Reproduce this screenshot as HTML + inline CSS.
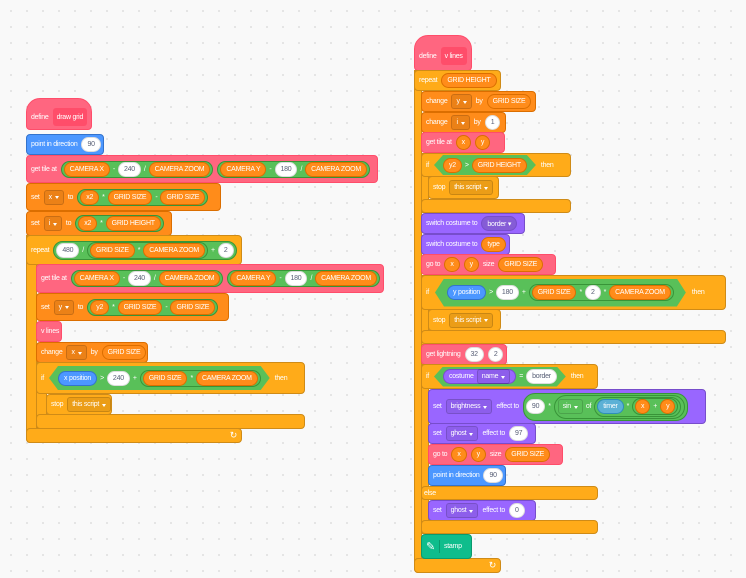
<!DOCTYPE html>
<html><head><meta charset="utf-8"><style>
body{margin:0;width:746px;height:578px;overflow:hidden;background-color:#F9F9F9;background-image:radial-gradient(#dedede 0.8px,transparent 1px);background-size:16px 16px;background-position:3px 3px;position:relative;font-family:"Liberation Sans",sans-serif}
.b{position:absolute;display:flex;align-items:center;gap:4px;padding:0 4px;box-sizing:border-box;border-radius:4px;color:#fff;font-size:7px;white-space:nowrap;letter-spacing:-0.25px}
.pk{background:#FF6680;border:1px solid #FF4D6A}
.bl{background:#4C97FF;border:1px solid #3373CC}
.vo{background:#FF8C1A;border:1px solid #DB6E00}
.ct{background:#FFAB19;border:1px solid #CF8B17}
.pu{background:#9966FF;border:1px solid #774DCB}
.te{background:#0FBD8C;border:1px solid #0B9A6D}
.r{display:flex;align-items:center;gap:3px;border-radius:10px;padding:0 5px;height:15px;box-sizing:border-box;color:#fff}
.o{background:#FF8C1A;border:1px solid #DB6E00}
.n{background:#fff;color:#575E75;border:1px solid #ddd;padding:0 5px}
.g{background:#59C059;border:1px solid #389438;padding:0 2px;height:auto;min-height:17px;border-radius:12px}
.sb{background:#5CB1D6;border:1px solid #2E8EB8}
.bp{background:#4C97FF;border:1px solid #3373CC}
.pp{background:#9966FF;border:1px solid #774DCB}
.hex{display:flex;align-items:center;gap:3px;background:#59C059;height:20px;padding:0 9px;clip-path:polygon(9px 0,calc(100% - 9px) 0,100% 50%,calc(100% - 9px) 100%,9px 100%,0 50%)}
.dd{display:flex;align-items:center;gap:3px;padding:0 4px;height:13px;border-radius:3px;border:1px solid rgba(0,0,0,.15);background:rgba(0,0,0,.08)}
.dd:after{content:"";border:2.5px solid transparent;border-top:3px solid #fff;margin-top:3px}
.c{position:absolute;box-sizing:border-box}
</style></head><body>

<!-- LEFT SCRIPT -->
<div class="b pk" style="left:26px;top:98px;width:66px;height:32px;border-radius:14px 14px 4px 4px;padding-top:6px">define <span class="r" style="background:#FF4D6A;border-radius:3px;height:18px;padding:0 4px">draw grid</span></div>
<div class="b bl" style="left:26px;top:134px;width:78px;height:21px">point in direction <span class="r n">90</span></div>
<div class="b pk" style="left:26px;top:155px;width:352px;height:28px">get tile at
 <span class="r g"><span class="r o">CAMERA X</span>-<span class="r n">240</span>/<span class="r o">CAMERA ZOOM</span></span>
 <span class="r g"><span class="r o">CAMERA Y</span>-<span class="r n">180</span>/<span class="r o">CAMERA ZOOM</span></span></div>
<div class="b vo" style="left:26px;top:183px;width:195px;height:28px">set <span class="dd">x</span> to <span class="r g"><span class="r o">x2</span>*<span class="r o">GRID SIZE</span>-<span class="r o">GRID SIZE</span></span></div>
<div class="b vo" style="left:26px;top:211px;width:146px;height:25px">set <span class="dd">i</span> to <span class="r g"><span class="r o">x2</span>*<span class="r o">GRID HEIGHT</span></span></div>
<!-- repeat C -->
<div class="c ct" style="left:26px;top:235px;width:11px;height:208px;border-radius:0 0 0 4px"></div>
<div class="b ct" style="left:26px;top:235px;width:216px;height:30px">repeat <span class="r g"><span class="r n">480</span>/<span class="r g"><span class="r o">GRID SIZE</span>*<span class="r o">CAMERA ZOOM</span></span>+<span class="r n">2</span></span></div>
<div class="b ct" style="left:26px;top:428px;width:216px;height:15px;justify-content:flex-end;font-size:9px">↻</div>
<div class="b pk" style="left:36px;top:264px;width:348px;height:29px">get tile at
 <span class="r g"><span class="r o">CAMERA X</span>-<span class="r n">240</span>/<span class="r o">CAMERA ZOOM</span></span>
 <span class="r g"><span class="r o">CAMERA Y</span>-<span class="r n">180</span>/<span class="r o">CAMERA ZOOM</span></span></div>
<div class="b vo" style="left:36px;top:293px;width:193px;height:28px">set <span class="dd">y</span> to <span class="r g"><span class="r o">y2</span>*<span class="r o">GRID SIZE</span>-<span class="r o">GRID SIZE</span></span></div>
<div class="b pk" style="left:36px;top:321px;width:26px;height:21px">v lines</div>
<div class="b vo" style="left:36px;top:342px;width:112px;height:21px">change <span class="dd">x</span> by <span class="r o">GRID SIZE</span></div>
<div class="c ct" style="left:36px;top:362px;width:11px;height:66px"></div>
<div class="b ct" style="left:36px;top:362px;width:269px;height:32px;gap:5px">if <span class="hex" style="height:24px"><span class="r bp">x position</span>&gt;<span class="r n">240</span>+<span class="r g"><span class="r o">GRID SIZE</span>*<span class="r o">CAMERA ZOOM</span></span></span>then</div>
<div class="b ct" style="left:46px;top:394px;width:66px;height:21px">stop <span class="dd">this script</span></div>
<div class="b ct" style="left:36px;top:414px;width:269px;height:15px"></div>

<!-- RIGHT SCRIPT -->
<div class="b pk" style="left:414px;top:35px;width:58px;height:36px;border-radius:14px 14px 4px 4px;padding-top:6px">define <span class="r" style="background:#FF4D6A;border-radius:3px;height:18px;padding:0 4px">v lines</span></div>
<div class="c ct" style="left:414px;top:70px;width:8px;height:503px;border-radius:0 0 0 4px"></div>
<div class="b ct" style="left:414px;top:70px;width:87px;height:21px">repeat <span class="r o">GRID HEIGHT</span></div>
<div class="b ct" style="left:414px;top:558px;width:87px;height:15px;justify-content:flex-end;font-size:9px">↻</div>
<div class="b vo" style="left:421px;top:91px;width:115px;height:21px">change <span class="dd">y</span> by <span class="r o">GRID SIZE</span></div>
<div class="b vo" style="left:421px;top:112px;width:85px;height:21px">change <span class="dd">i</span> by <span class="r n">1</span></div>
<div class="b pk" style="left:421px;top:132px;width:84px;height:21px">get tile at <span class="r o">x</span><span class="r o">y</span></div>
<div class="c ct" style="left:421px;top:153px;width:8px;height:60px"></div>
<div class="b ct" style="left:421px;top:153px;width:150px;height:24px;gap:5px">if <span class="hex"><span class="r o">y2</span>&gt;<span class="r o">GRID HEIGHT</span></span>then</div>
<div class="b ct" style="left:428px;top:176px;width:71px;height:23px">stop <span class="dd">this script</span></div>
<div class="b ct" style="left:421px;top:199px;width:150px;height:14px"></div>
<div class="b pu" style="left:421px;top:213px;width:104px;height:21px">switch costume to <span class="r pp" style="background:#855CD6">border ▾</span></div>
<div class="b pu" style="left:421px;top:234px;width:89px;height:21px">switch costume to <span class="r o">type</span></div>
<div class="b pk" style="left:421px;top:254px;width:135px;height:21px">go to <span class="r o">x</span><span class="r o">y</span> size <span class="r o">GRID SIZE</span></div>
<div class="c ct" style="left:421px;top:275px;width:8px;height:70px"></div>
<div class="b ct" style="left:421px;top:275px;width:305px;height:35px;gap:6px">if <span class="hex" style="height:28px;padding:0 12px"><span class="r bp">y position</span>&gt;<span class="r n">180</span>+<span class="r g"><span class="r o">GRID SIZE</span>*<span class="r n">2</span>*<span class="r o">CAMERA ZOOM</span></span></span>then</div>
<div class="b ct" style="left:428px;top:309px;width:73px;height:22px">stop <span class="dd">this script</span></div>
<div class="b ct" style="left:421px;top:330px;width:305px;height:14px"></div>
<div class="b pk" style="left:421px;top:344px;width:86px;height:21px">get lightning <span class="r n">32</span><span class="r n">2</span></div>
<div class="c ct" style="left:421px;top:364px;width:8px;height:170px"></div>
<div class="b ct" style="left:421px;top:364px;width:177px;height:25px;gap:5px">if <span class="hex"><span class="r pp">costume <span class="dd">name</span></span>=<span class="r n">border</span></span>then</div>
<div class="b pu" style="left:428px;top:389px;width:278px;height:35px">set <span class="dd">brightness</span> effect to <span class="r g" style="min-height:28px"><span class="r n">90</span>*<span class="r g" style="min-height:24px;padding:0 3px"><span class="dd" style="background:#59C059">sin</span>of<span class="r g" style="min-height:20px"><span class="r sb">timer</span>*<span class="r g"><span class="r o">x</span>+<span class="r o">y</span></span></span></span></span></div>
<div class="b pu" style="left:428px;top:423px;width:108px;height:21px">set <span class="dd">ghost</span> effect to <span class="r n">97</span></div>
<div class="b pk" style="left:428px;top:444px;width:135px;height:21px">go to <span class="r o">x</span><span class="r o">y</span> size <span class="r o">GRID SIZE</span></div>
<div class="b bl" style="left:428px;top:465px;width:78px;height:21px">point in direction <span class="r n">90</span></div>
<div class="b ct" style="left:421px;top:486px;width:177px;height:14px;padding-left:2px">else</div>
<div class="b pu" style="left:428px;top:500px;width:108px;height:21px">set <span class="dd">ghost</span> effect to <span class="r n">0</span></div>
<div class="b ct" style="left:421px;top:520px;width:177px;height:14px"></div>
<div class="b te" style="left:421px;top:534px;width:51px;height:25px"><span style="font-size:11px;color:#fff;border-right:1px solid #0B9A6D;padding-right:4px">✎</span>stamp</div>

</body></html>
